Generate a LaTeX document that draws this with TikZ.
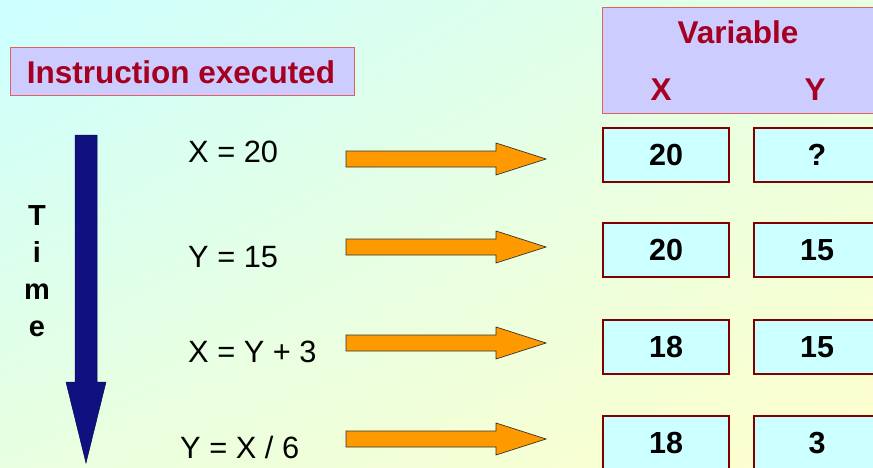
\documentclass[tikz,border=0pt]{standalone}
\usepackage{fontspec}
\setmainfont{Liberation Sans}
\setsansfont{Liberation Sans}
\usetikzlibrary{shadings}
\definecolor{bgcyan}{RGB}{204,255,255}
\definecolor{bgyellow}{RGB}{255,255,204}
\definecolor{bgmidA}{RGB}{232,255,224}
\definecolor{titlered}{RGB}{165,0,33}
\definecolor{lav}{RGB}{204,204,255}
\definecolor{lavborder}{RGB}{224,96,96}
\definecolor{valfill}{RGB}{204,255,255}
\definecolor{valborder}{RGB}{128,0,0}
\definecolor{orangefill}{RGB}{255,153,0}
\definecolor{navy}{RGB}{16,16,128}
\tikzset{
  headbox/.style={draw=lavborder, line width=0.8pt, fill=lav},
  valbox/.style={draw=valborder, line width=2.8pt, fill=valfill, minimum width=126pt, minimum height=54pt, inner sep=0pt, font=\fontsize{30.5}{36}\selectfont\bfseries, text=black},
  headtext/.style={font=\fontsize{31.5}{36}\selectfont\bfseries, text=titlered, inner sep=0pt},
  instr/.style={font=\fontsize{30.8}{36}\selectfont, text=black, inner sep=0pt, anchor=base west},
  orangearrow/.pic={
    \draw[draw=black!80, line width=0.7pt, fill=orangefill]
      (0,-8) -- (150,-8) -- (150,-16) -- (200,0) -- (150,16) -- (150,8) -- (0,8) -- cycle;
  }
}
\begin{document}
\begin{tikzpicture}[x=1pt,y=-1pt]
\useasboundingbox (0,0) rectangle (873,467);
\shade[upper left=bgcyan, lower right=bgyellow, upper right=bgmidA, lower left=bgmidA] (0,0) rectangle (873,467);

% Instruction executed header
\node[headbox, minimum width=344pt, minimum height=48pt, inner sep=0pt] (ihead) at (182,71) {};
\node[headtext] (itext) at (181,72) {Instruction executed};

% Variable header
\node[headbox, minimum width=272pt, minimum height=106pt, inner sep=0pt] (vhead) at (738,60) {};
\node[headtext, anchor=base] (vtext) at (738,43) {Variable};
\node[headtext, anchor=base] (vx) at (661,100) {X};
\node[headtext, anchor=base] (vy) at (815,100) {Y};

% Time arrow
\draw[fill=navy, draw=navy!70!black, line width=0.5pt]
  (75,135) -- (97,135) -- (97,382) -- (106,382) -- (86,463) -- (66,382) -- (75,382) -- cycle;
\node[font=\fontsize{29}{37}\selectfont\bfseries, align=center, inner sep=0pt, anchor=north] (time) at (37,205) {T\\i\\m\\e};

% Instructions
\node[instr] (i1) at (188,162) {X = 20};
\node[instr] (i2) at (188,267) {Y = 15};
\node[instr] (i3) at (188,362) {X = Y + 3};
\node[instr] (i4) at (180,458) {Y = X / 6};

% Orange arrows
\pic at (346,159) {orangearrow};
\pic at (346,247) {orangearrow};
\pic at (346,343) {orangearrow};
\pic at (346,439) {orangearrow};

% Value boxes
\node[valbox] (x1) at (666,155) {20};
\node[valbox] (y1) at (817,155) {?};
\node[valbox] (x2) at (666,250) {20};
\node[valbox] (y2) at (817,250) {15};
\node[valbox] (x3) at (666,347) {18};
\node[valbox] (y3) at (817,347) {15};
\node[valbox] (x4) at (666,443) {18};
\node[valbox] (y4) at (817,443) {3};
\end{tikzpicture}
\end{document}
